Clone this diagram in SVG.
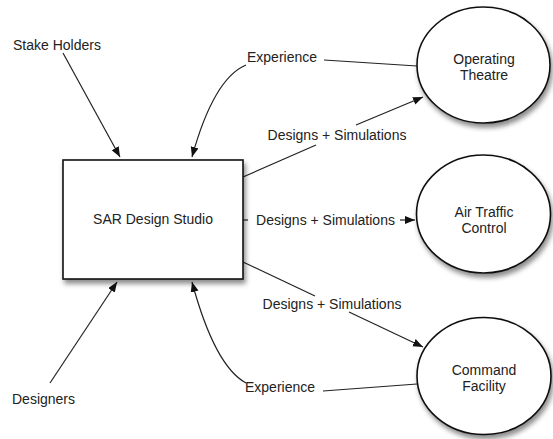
<svg xmlns="http://www.w3.org/2000/svg" width="553" height="439" viewBox="0 0 553 439">
<style>
text{font-family:"Liberation Sans",Arial,Helvetica,sans-serif;font-size:14px;fill:#222;}
.c{text-anchor:middle;}
.node{fill:#fff;stroke:#111;stroke-width:1.6;filter:url(#sh);}
.edge{fill:none;stroke:#222;stroke-width:1.2;}
.arr{marker-end:url(#ah);}
</style>
<defs>
<filter id="sh" x="-20%" y="-20%" width="150%" height="150%">
<feDropShadow dx="2" dy="4" stdDeviation="2.5" flood-color="#000" flood-opacity="0.45"/>
</filter>
<marker id="ah" markerUnits="userSpaceOnUse" markerWidth="11" markerHeight="9" refX="10" refY="4" orient="auto">
<path d="M0,0 L10,4 L0,8 z" fill="#111"/>
</marker>
</defs>
<g id="connectors">
<path class="edge arr" d="M63,53 L120,157"/>
<path class="edge arr" d="M246,65 C222,75 205,110 192,157"/>
<path class="edge" d="M324,60 L417,66"/>
<path class="edge" d="M243,177 L316,145"/>
<path class="edge arr" d="M356,125 L423,97"/>
<path class="edge" d="M243,220 L248,220"/>
<path class="edge arr" d="M400,220 L415,220"/>
<path class="edge" d="M243,262 L315,296"/>
<path class="edge arr" d="M349,312 L423,347"/>
<path class="edge arr" d="M50,383 L117,282"/>
<path class="edge arr" d="M246,383 C222,370 205,330 192,282"/>
<path class="edge" d="M323,391 L417,384"/>
</g>
<g id="labels">
<text x="13" y="50">Stake Holders</text>
<text x="247" y="62">Experience</text>
<text class="c" x="337" y="140">Designs + Simulations</text>
<text class="c" x="325.5" y="225">Designs + Simulations</text>
<text class="c" x="332" y="309">Designs + Simulations</text>
<text x="245" y="392">Experience</text>
<text x="12" y="404">Designers</text>
</g>
<g id="sar-design-studio">
<rect class="node" x="63" y="160" width="180" height="119"/>
<text class="c" x="153" y="224">SAR Design Studio</text>
</g>
<g id="operating-theatre">
<ellipse class="node" cx="483.5" cy="65" rx="66.5" ry="58"/>
<text class="c" x="484" y="64">Operating</text>
<text class="c" x="484" y="80">Theatre</text>
</g>
<g id="air-traffic-control">
<ellipse class="node" cx="483.5" cy="214" rx="67" ry="59"/>
<text class="c" x="484" y="217">Air Traffic</text>
<text class="c" x="484" y="233">Control</text>
</g>
<g id="command-facility">
<ellipse class="node" cx="484" cy="376" rx="67" ry="58.5"/>
<text class="c" x="484" y="375">Command</text>
<text class="c" x="484" y="391">Facility</text>
</g>
</svg>
